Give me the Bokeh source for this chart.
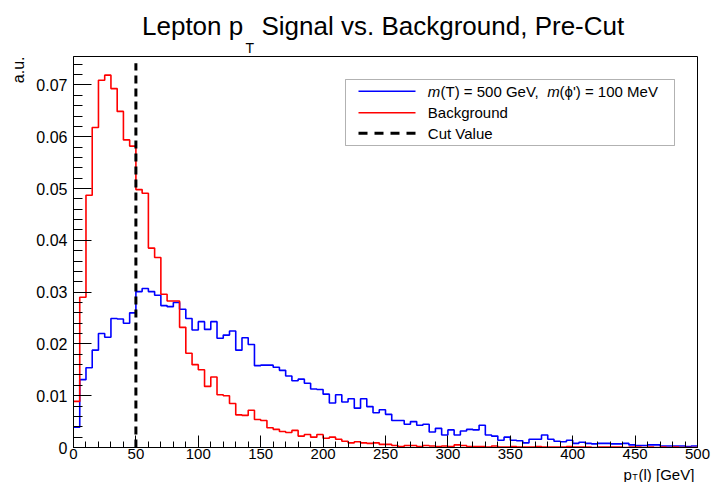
import math
from bokeh.plotting import figure
from bokeh.layouts import column, row
from bokeh.models import Range1d, FixedTicker, Label, BoxAnnotation
from bokeh.core.properties import value
from bokeh.embed import file_html
from bokeh.resources import INLINE

# ---------------- data ----------------
bin_edges = list(range(0, 505, 5))  # 100 bins of 5 GeV, 0..500

signal = [
    0.0039, 0.0131, 0.0154, 0.0188, 0.0220, 0.0213, 0.0249, 0.0248, 0.0240, 0.0260,
    0.0301, 0.0307, 0.0301, 0.0294, 0.0274, 0.0272, 0.0280, 0.0267, 0.0249, 0.0227,
    0.0243, 0.0228, 0.0243, 0.0211, 0.0217, 0.0225, 0.0188, 0.0212, 0.0199, 0.0158,
    0.0159, 0.0159, 0.0155, 0.0149, 0.0138, 0.0129, 0.0132, 0.0124, 0.0113, 0.0112,
    0.0103, 0.0086, 0.0102, 0.0088, 0.0094, 0.0076, 0.0094, 0.0079, 0.0067, 0.0073,
    0.0064, 0.0052, 0.0052, 0.0045, 0.0050, 0.0043, 0.0045, 0.0030, 0.0037, 0.0024,
    0.0034, 0.0024, 0.0032, 0.0035, 0.0034, 0.0043, 0.0024, 0.0022, 0.0014, 0.0020,
    0.0014, 0.0013, 0.0009, 0.0016, 0.0016, 0.0024, 0.0016, 0.0012, 0.0011, 0.0014,
    0.0008, 0.0010, 0.0008, 0.0007, 0.0008, 0.0008, 0.0007, 0.0007, 0.0008, 0.0005,
    0.0004, 0.0004, 0.0005, 0.0005, 0.0003, 0.0003, 0.0003, 0.0003, 0.0002, 0.0003,
]

background = [
    0.0089, 0.0290, 0.0487, 0.0618, 0.0709, 0.0719, 0.0693, 0.0649, 0.0594, 0.0582,
    0.0498, 0.0491, 0.0385, 0.0367, 0.0296, 0.0283, 0.0283, 0.0232, 0.0182, 0.0160,
    0.0150, 0.0118, 0.0136, 0.0102, 0.0100, 0.0085, 0.0063, 0.0062, 0.0072, 0.0054,
    0.0052, 0.0038, 0.0035, 0.0031, 0.0029, 0.0033, 0.0022, 0.0025, 0.0020, 0.0025,
    0.0018, 0.0020, 0.0016, 0.0012, 0.0009, 0.0011, 0.0009, 0.0008, 0.0009, 0.0006,
    0.0006, 0.0004, 0.0002, 0.0004, 0.0004, 0.0002, 0.0004, 0.0003, 0.0002, 0.0003,
    0.0002, 0.0005, 0.0004, 0.0002, 0.0002, 0.0002, 0.0001, 0.0003, 0.0001, 0.0001,
    0.0002, 0.0001, 0.0001, 0.0001, 0.0002, 0.0001, 0.0001, 0.0001, 0.0001, 0.0002,
    0.0001, 0.0001, 0.0001, 0.0000, 0.0001, 0.0001, 0.0001, 0.0001, 0.0000, 0.0001,
    0.0001, 0.0000, 0.0001, 0.0000, 0.0001, 0.0000, 0.0001, 0.0000, 0.0000, 0.0000,
]

cut_value = 50
cut_line_top = 0.0742

x_ticks = [0, 50, 100, 150, 200, 250, 300, 350, 400, 450, 500]
x_minor_ticks = list(range(0, 501, 10))
y_ticks = [0, 0.01, 0.02, 0.03, 0.04, 0.05, 0.06, 0.07]
y_tick_labels = ["0", "0.01", "0.02", "0.03", "0.04", "0.05", "0.06", "0.07"]
y_minor_ticks = [round(0.002 * i, 3) for i in range(38)]

legend_labels = ["Background", "Cut Value"]

# ---------------- layout (page pixels) ----------------
W, H = 712, 482
TITLE_H = 55          # title strip 0..55
XT_H = 17             # x-title strip 465..482
MID_H = H - TITLE_H - XT_H   # 410
LEFT_W = 30           # "a.u." strip
FRAME_L, FRAME_R, FRAME_T, FRAME_B = 73, 697, 56, 447
X_MAX, Y_MAX = 500, 0.0755
FONT = "Liberation Sans"
MID_OFF = 0.3465      # baseline -> middle offset (em) for Liberation Sans


def px2x(px):
    return (px - FRAME_L) / (FRAME_R - FRAME_L) * X_MAX


def py2y(py):
    return (FRAME_B - py) / (FRAME_B - FRAME_T) * Y_MAX


def strip(width, height, x0, x1, y_bottom, y_top):
    f = figure(width=width, height=height, x_range=Range1d(x0, x1), y_range=Range1d(y_bottom, y_top),
               output_backend="svg", toolbar_location=None, x_axis_location=None, y_axis_location=None,
               min_border=0, min_border_left=0, min_border_right=0, min_border_top=0, min_border_bottom=0)
    f.title.text = ""
    f.grid.visible = False
    f.outline_line_color = None
    f.background_fill_color = "white"
    f.border_fill_color = "white"
    return f


def stext(f, x, y_base, text, size_px, align="left", angle=0.0, style="normal"):
    # y_base is the alphabetic baseline (page px); convert to the middle anchor
    if angle == 0.0:
        x_a, y_a = x, y_base - MID_OFF * size_px
    else:
        x_a, y_a = x - MID_OFF * size_px, y_base
    f.text(x=[x_a], y=[y_a], text=[text], text_font=value(FONT), text_font_size=value(f"{size_px}px"),
           text_font_style=value(style), text_align=value(align), text_baseline=value("middle"),
           text_color="black", angle=angle)


# ---- title strip ----
tfig = strip(W, TITLE_H, 0, W, TITLE_H, 0)
stext(tfig, 141.5, 34.3, "Lepton p", 26)
stext(tfig, 245.0, 52.5, "T", 14)
stext(tfig, 261.0, 34.3, "Signal vs. Background, Pre-Cut", 26)

# ---- y-title strip (x = baseline position of rotated text, y = its upper end) ----
lfig = strip(LEFT_W, MID_H, 0, LEFT_W, TITLE_H + MID_H, TITLE_H)
stext(lfig, 23.5, 55.0, "a.u.", 16, align="right", angle=math.pi / 2)

# ---- x-title strip ----
bfig = strip(W, XT_H, 0, W, H, H - XT_H)
stext(bfig, 623.0, 478.7, "p", 15)
stext(bfig, 631.8, 480.0, "T", 9)
stext(bfig, 638.0, 478.7, "(l) [GeV]", 15)

# ---- main plot ----
p = figure(width=W - LEFT_W, height=MID_H, x_range=Range1d(0, X_MAX), y_range=Range1d(0, Y_MAX),
           output_backend="svg", toolbar_location=None,
           min_border_left=FRAME_L - LEFT_W, min_border_right=W - FRAME_R,
           min_border_top=FRAME_T - TITLE_H, min_border_bottom=TITLE_H + MID_H - FRAME_B)
p.title.text = ""
p.grid.visible = False
p.outline_line_color = "black"
p.outline_line_width = 1
p.background_fill_color = "white"
p.border_fill_color = "white"

xa = p.xaxis[0]
xa.ticker = FixedTicker(ticks=x_ticks, minor_ticks=x_minor_ticks)
xa.major_tick_in = 12
xa.major_tick_out = 0
xa.minor_tick_in = 6
xa.minor_tick_out = 0
xa.axis_line_color = "black"
xa.major_tick_line_color = "black"
xa.minor_tick_line_color = "black"
xa.major_label_text_font = FONT
xa.major_label_text_font_size = "15px"
xa.major_label_text_color = "black"
xa.major_label_standoff = 1

ya = p.yaxis[0]
ya.ticker = FixedTicker(ticks=y_ticks, minor_ticks=y_minor_ticks)
ya.major_label_overrides = dict(zip(y_ticks, y_tick_labels))
ya.major_tick_in = 18
ya.major_tick_out = 0
ya.minor_tick_in = 9
ya.minor_tick_out = 0
ya.axis_line_color = "black"
ya.major_tick_line_color = "black"
ya.minor_tick_line_color = "black"
ya.major_label_text_font = FONT
ya.major_label_text_font_size = "16px"
ya.major_label_text_color = "black"
ya.major_label_standoff = 6

# histograms
p.step(bin_edges, signal + [signal[-1]], mode="after", line_color="#0000ff", line_width=1.6)
p.step(bin_edges, background + [background[-1]], mode="after", line_color="#ff0000", line_width=1.6)

# cut line
p.line([cut_value, cut_value], [0, cut_line_top], line_color="black", line_width=3, line_dash="8 5")

# ---------------- legend (manual) ----------------
p.add_layout(BoxAnnotation(left=px2x(345), right=px2x(674), top=py2y(79), bottom=py2y(145),
                           fill_color="white", fill_alpha=1.0, line_color="black", line_width=1,
                           level="annotation"))
rows = [90.7, 112.3, 132.7]
lx0, lx1 = px2x(358), px2x(415)
p.segment(x0=[lx0], y0=[py2y(rows[0])], x1=[lx1], y1=[py2y(rows[0])], line_color="#0000ff",
          line_width=1.5, level="overlay")
p.segment(x0=[lx0], y0=[py2y(rows[1])], x1=[lx1], y1=[py2y(rows[1])], line_color="#ff0000",
          line_width=1.5, level="overlay")
p.segment(x0=[lx0], y0=[py2y(rows[2])], x1=[lx1], y1=[py2y(rows[2])], line_color="black", line_width=3,
          line_dash="9 7", level="overlay")


def lab(px, py, text, size, style="normal"):
    p.add_layout(Label(x=px2x(px), y=py2y(py), text=text, text_font=FONT, text_font_size=size,
                       text_font_style=style, text_align="left", text_baseline="middle",
                       text_color="black"))


lab(427.3, rows[0], "m", "15px", style="italic")
lab(440.0, rows[0], "(T) = 500 GeV,", "15px")
lab(546.7, rows[0], "m", "15px", style="italic")
lab(559.0, rows[0], "(\u03d5') = 100 MeV", "15px")
lab(427.3, rows[1], legend_labels[0], "15px")
lab(427.3, rows[2], legend_labels[1], "15px")

layout = column(tfig, row(lfig, p, spacing=0), bfig, spacing=0)
open("out.html", "w").write(file_html(layout, INLINE))
